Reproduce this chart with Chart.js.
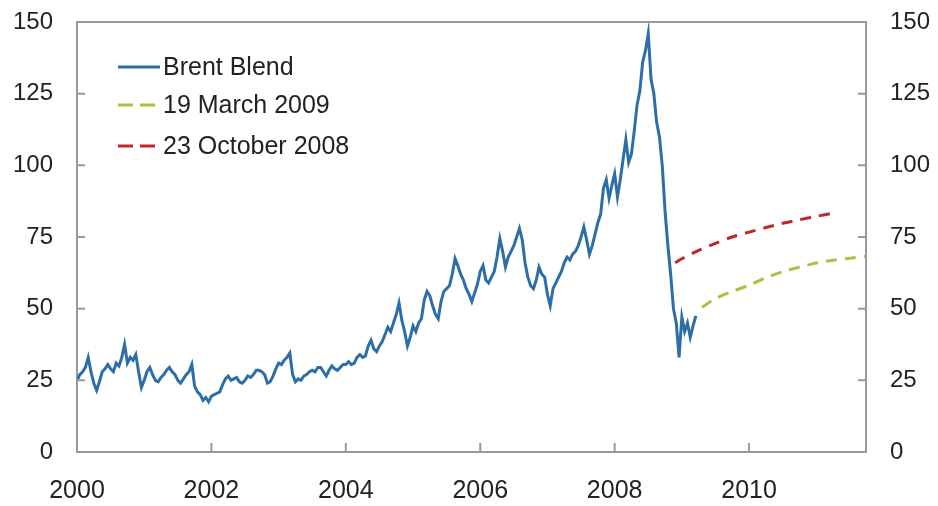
<!DOCTYPE html>
<html>
<head>
<meta charset="utf-8">
<script src="https://cdn.jsdelivr.net/npm/chart.js@4.4.0/dist/chart.umd.min.js"></script>
<style>
  body { margin: 0; background: #fff; }
  #caja { width: 938px; height: 506px; }
</style>
</head>
<body>
<div id="caja"><canvas id="grafica"></canvas></div>
<script>
// Datos: Brent Blend, valores cada media quincena (USD por barril)
const brent2000 = [25, 27, 28, 29.5, 33, 28, 24, 21.5, 24.5, 28, 29, 30.5, 29, 28, 31, 30, 33, 37.5, 31, 33, 32, 34, 28, 22.5];
const brent2001 = [25, 28, 29.5, 27, 25, 24.5, 26, 27, 28.5, 29.5, 28, 27, 25, 24, 25.5, 27, 28, 30.5, 23, 21, 20, 18, 19, 17.5];
const brent2002 = [19.5, 20, 20.5, 21, 23.5, 25.5, 26.5, 25, 25.5, 26, 24.5, 24, 25, 26.5, 26, 27, 28.5, 28.5, 28, 27, 24, 24.5, 26.5, 29];
const brent2003 = [31, 30.5, 32, 33, 34.5, 27, 24.5, 25.5, 25, 26.5, 27, 28, 28.5, 28, 29.5, 29.5, 28, 26.5, 28.5, 30, 29, 28.5, 29.5, 30.5];
const brent2004 = [30.5, 31.5, 30.5, 31, 33, 34, 33, 33.5, 37, 39, 36, 35, 37, 38.5, 41, 43.5, 42, 45, 48, 52, 46, 42, 37, 40];
const brent2005 = [44, 42, 45, 46.5, 53, 56, 54.5, 51, 48, 46.5, 52.5, 56, 57, 58, 62, 67.5, 65, 62, 60, 57, 55, 52.5, 55.5, 58.5];
const brent2006 = [63, 65, 60, 59, 61, 63, 68, 74.5, 70, 64.5, 68, 70, 72, 75, 78, 74, 66, 61, 58, 57, 60, 64.5, 62, 61];
const brent2007 = [55, 51, 57, 59, 61, 63, 66, 68, 67, 69, 70, 72, 75, 78.5, 74, 69, 72, 76, 80, 83, 92, 95, 88.5, 93];
const brent2008 = [97, 89, 95, 102, 109, 101, 104, 112, 121, 126, 136, 140, 146, 130, 125, 115, 110, 100, 84, 72, 62, 50, 45, 33];
const brent2009 = [47, 42, 45, 40, 44, 47.5];
const brentInicio = 2000;

// Curvas de futuros
const fechas19Mar2009 = [2009.3, 2009.5, 2009.75, 2010.0, 2010.25, 2010.5, 2010.75, 2011.0, 2011.25, 2011.5, 2011.74];
const valores19Mar2009 = [50.5, 53.5, 56, 58.2, 60.8, 62.9, 64.5, 65.9, 66.9, 67.6, 68.3];
const fechas23Oct2008 = [2008.9, 2009.0, 2009.25, 2009.5, 2009.75, 2010.0, 2010.25, 2010.5, 2010.75, 2011.0, 2011.25];
const valores23Oct2008 = [66, 67.4, 70.3, 72.8, 75, 76.7, 78.3, 79.8, 81, 82.2, 83.3];

// Ejes
const xTicks = [2000, 2002, 2004, 2006, 2008, 2010];
const yTicks = [0, 25, 50, 75, 100, 125, 150];
const leyenda = ['Brent Blend', '19 March 2009', '23 October 2008'];

const colores = ['#2d6ea6', '#a9c23d', '#c0262d'];
const fuente = '"Liberation Sans", Arial, sans-serif';

const brent = [].concat(brent2000, brent2001, brent2002, brent2003, brent2004,
                        brent2005, brent2006, brent2007, brent2008, brent2009);
const datosBrent = brent.map((v, i) => ({ x: brentInicio + i / 24, y: v }));
const datosVerde = fechas19Mar2009.map((f, i) => ({ x: f, y: valores19Mar2009[i] }));
const datosRojo = fechas23Oct2008.map((f, i) => ({ x: f, y: valores23Oct2008[i] }));

// Plugin: marco superior, marcas hacia dentro y leyenda
const marcoPlugin = {
    id: 'marco',
    afterDraw(chart) {
        const { ctx, chartArea: a, scales } = chart;
        ctx.save();
        ctx.strokeStyle = '#999';
        ctx.lineWidth = 2;
        ctx.beginPath();
        ctx.moveTo(a.left, a.top);
        ctx.lineTo(a.right + 1, a.top);
        yTicks.slice(1, -1).forEach(v => {
            const y = scales.y.getPixelForValue(v);
            ctx.moveTo(a.left, y); ctx.lineTo(a.left + 8, y);
            ctx.moveTo(a.right, y); ctx.lineTo(a.right - 8, y);
        });
        xTicks.slice(1).forEach(v => {
            const x = scales.x.getPixelForValue(v);
            ctx.moveTo(x, a.bottom); ctx.lineTo(x, a.bottom - 9);
        });
        ctx.stroke();

        // Leyenda
        ctx.font = '25px ' + fuente;
        ctx.textBaseline = 'middle';
        ctx.fillStyle = '#222';
        const filas = [67, 105, 146];
        leyenda.forEach((txt, i) => {
            ctx.strokeStyle = colores[i];
            ctx.lineWidth = 3;
            ctx.setLineDash(i === 0 ? [] : [15, 7]);
            ctx.beginPath();
            ctx.moveTo(118, filas[i]);
            ctx.lineTo(i === 0 ? 160 : 155, filas[i]);
            ctx.stroke();
            ctx.setLineDash([]);
            ctx.fillText(txt, 163, filas[i] + 1);
        });
        ctx.restore();
    }
};

// Ajusta el ancho del eje vertical sin margen extra arriba/abajo
function ajustarEjeY(ancho) {
    return s => {
        s.width = ancho;
        s.paddingTop = 0;
        s.paddingBottom = 0;
    };
}

function crearGrafica() {
    const ctx = document.getElementById('grafica').getContext('2d');
    new Chart(ctx, {
        type: 'line',
        data: {
            datasets: [
                { label: leyenda[0], data: datosBrent, borderColor: colores[0], borderWidth: 3, pointRadius: 0, tension: 0 },
                { label: leyenda[1], data: datosVerde, borderColor: colores[1], borderWidth: 3, borderDash: [11, 8], pointRadius: 0, tension: 0.3 },
                { label: leyenda[2], data: datosRojo, borderColor: colores[2], borderWidth: 3, borderDash: [11, 8], pointRadius: 0, tension: 0.3 }
            ]
        },
        options: {
            responsive: true,
            maintainAspectRatio: false,
            animation: false,
            layout: { padding: { top: 22, left: 0, right: 0, bottom: 0 } },
            plugins: { legend: { display: false }, tooltip: { enabled: false } },
            scales: {
                x: {
                    type: 'linear',
                    min: 2000,
                    max: 2011.74,
                    afterBuildTicks: s => { s.ticks = xTicks.map(v => ({ value: v })); },
                    afterFit: s => { s.height = 54; },
                    grid: { display: false, drawTicks: false },
                    border: { display: true, color: '#999', width: 2 },
                    ticks: { padding: 24, maxRotation: 0, autoSkip: false, color: '#222',
                             font: { size: 25, family: fuente }, callback: v => String(v) }
                },
                y: {
                    position: 'left',
                    min: 0, max: 150,
                    afterBuildTicks: s => { s.ticks = yTicks.map(v => ({ value: v })); },
                    afterFit: ajustarEjeY(77),
                    grid: { display: false, drawTicks: false },
                    border: { display: true, color: '#999', width: 2 },
                    ticks: { padding: 24, color: '#222', font: { size: 24, family: fuente } }
                },
                y2: {
                    position: 'right',
                    min: 0, max: 150,
                    afterBuildTicks: s => { s.ticks = yTicks.map(v => ({ value: v })); },
                    afterFit: ajustarEjeY(72),
                    grid: { display: false, drawTicks: false },
                    border: { display: true, color: '#999', width: 2 },
                    ticks: { padding: 24, color: '#222', font: { size: 24, family: fuente } }
                }
            }
        },
        plugins: [marcoPlugin]
    });
}

document.addEventListener('DOMContentLoaded', () => {
    crearGrafica();
});
</script>
</body>
</html>
